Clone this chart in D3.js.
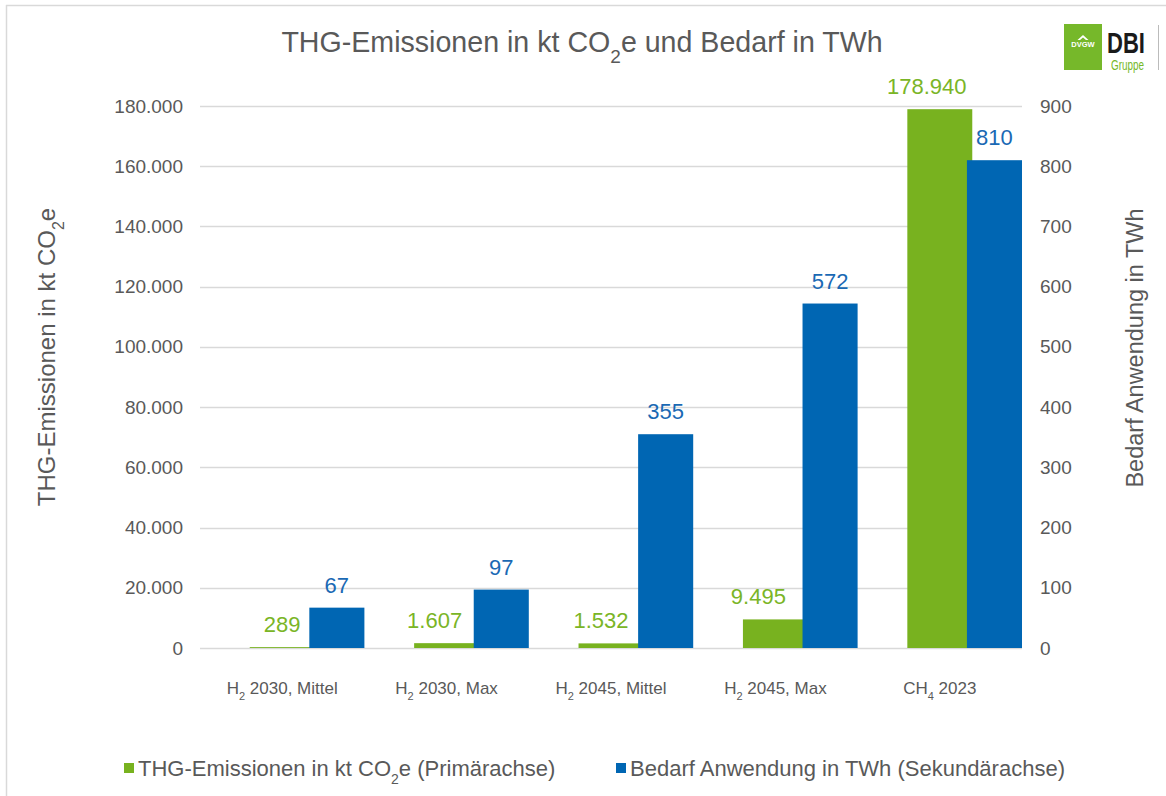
<!DOCTYPE html>
<html>
<head>
<meta charset="utf-8">
<script src="https://cdn.jsdelivr.net/npm/d3@7"></script>
<style>
  html, body { margin: 0; padding: 0; background: #fff; }
  svg { display: block; font-family: "Liberation Sans", Arial, sans-serif; }
</style>
</head>
<body>
<svg id="chart" width="1166" height="796"></svg>
<script>
// ---- data ("_" marks a subscript digit) ----
const categories = ["H_2 2030, Mittel", "H_2 2030, Max", "H_2 2045, Mittel", "H_2 2045, Max", "CH_4 2023"];
const emissions = [289, 1607, 1532, 9495, 178940];        // kt CO2e, primary axis
const demand = [67, 97, 355, 572, 810];                   // TWh, secondary axis
const leftTicks = [0, 20000, 40000, 60000, 80000, 100000, 120000, 140000, 160000, 180000];
const rightTicks = [0, 100, 200, 300, 400, 500, 600, 700, 800, 900];
const seriesNames = ["THG-Emissionen in kt CO_2e (Primärachse)", "Bedarf Anwendung in TWh (Sekundärachse)"];
const titleText = "THG-Emissionen in kt CO_2e und Bedarf in TWh";
const leftTitle = "THG-Emissionen in kt CO_2e";
const rightTitle = "Bedarf Anwendung in TWh";

// label nudges (layout only)
const emissionLabelDx = [0, -12, -10, -17, -13];

const GREEN = "#78b21f", BLUE = "#0066b3";
const GREEN_TXT = "#7ab526", BLUE_TXT = "#1a69b4";
const GREY = "#595959", GRID = "#d9d9d9";

const svg = d3.select("#chart");
const fmt = d3.formatLocale({decimal: ",", thousands: ".", grouping: [3], currency: ["", ""]}).format(",d");

// write text with "_x" as subscript
function richText(sel, str, subSize) {
  const parts = str.split(/(_\d)/).filter(s => s.length);
  parts.forEach(p => {
    if (p[0] === "_") {
      sel.append("tspan").attr("baseline-shift", "sub").attr("font-size", subSize).text(p.slice(1));
    } else {
      sel.append("tspan").text(p);
    }
  });
  return sel;
}

// border
svg.append("line").attr("x1", 6).attr("x2", 1166).attr("y1", 5.5).attr("y2", 5.5).attr("stroke", GRID).attr("stroke-width", 1.5);
svg.append("line").attr("x1", 6.5).attr("x2", 6.5).attr("y1", 5).attr("y2", 796).attr("stroke", GRID).attr("stroke-width", 1.5);

// scales
const plotL = 200, plotR = 1022, plotT = 106, plotB = 648;
const x = d3.scaleBand().domain(categories).range([plotL, plotR]).paddingInner(0).paddingOuter(0);
const yL = d3.scaleLinear().domain([0, 180000]).range([plotB, plotT]);
const yR = d3.scaleLinear().domain([0, 900]).range([plotB, plotT]);

// gridlines
svg.append("g").selectAll("line").data(leftTicks).join("line")
  .attr("x1", plotL).attr("x2", plotR)
  .attr("y1", d => Math.round(yL(d)) + 0.5).attr("y2", d => Math.round(yL(d)) + 0.5)
  .attr("stroke", GRID).attr("stroke-width", 1.3);

// left axis labels
const axL = svg.append("g").attr("transform", `translate(${plotL},0)`)
  .call(d3.axisLeft(yL).tickValues(leftTicks).tickFormat(fmt).tickSize(0).tickPadding(17));
axL.select(".domain").remove();
axL.selectAll("text").attr("font-size", 19).attr("fill", GREY).attr("font-family", "Liberation Sans, Arial, sans-serif");

// right axis labels
const axR = svg.append("g").attr("transform", `translate(${plotR},0)`)
  .call(d3.axisRight(yR).tickValues(rightTicks).tickFormat(d3.format("d")).tickSize(0).tickPadding(18));
axR.select(".domain").remove();
axR.selectAll("text").attr("font-size", 19).attr("fill", GREY).attr("font-family", "Liberation Sans, Arial, sans-serif");

const bw = x.bandwidth();
const greenW = bw * 0.395;
const blueOff = bw * 0.165, blueW = bw - bw / 2 - blueOff;

// green bars (centered on category)
svg.append("g").selectAll("rect").data(emissions).join("rect")
  .attr("x", (d, i) => x(categories[i]) + bw / 2 - greenW / 2)
  .attr("width", greenW)
  .attr("y", d => yL(d)).attr("height", d => plotB - yL(d))
  .attr("fill", GREEN);

// blue bars (offset to the right)
svg.append("g").selectAll("rect").data(demand).join("rect")
  .attr("x", (d, i) => x(categories[i]) + bw / 2 + blueOff)
  .attr("width", blueW)
  .attr("y", d => yR(d)).attr("height", d => plotB - yR(d))
  .attr("fill", BLUE);

// value labels
svg.append("g").selectAll("text").data(emissions).join("text")
  .attr("x", (d, i) => x(categories[i]) + bw / 2 + emissionLabelDx[i])
  .attr("y", d => yL(d) - 15)
  .attr("text-anchor", "middle").attr("font-size", 22).attr("fill", GREEN_TXT)
  .text(d => fmt(d));
svg.append("g").selectAll("text").data(demand).join("text")
  .attr("x", (d, i) => x(categories[i]) + bw / 2 + blueOff + blueW / 2)
  .attr("y", d => yR(d) - 15)
  .attr("text-anchor", "middle").attr("font-size", 22).attr("fill", BLUE_TXT)
  .text(d => d);

// category labels
svg.append("g").selectAll("text").data(categories).join("text")
  .attr("x", d => x(d) + bw / 2).attr("y", 694)
  .attr("text-anchor", "middle").attr("font-size", 17).attr("fill", GREY)
  .each(function(d) { richText(d3.select(this), d, 11); });

// title
richText(svg.append("text").attr("x", 582).attr("y", 52).attr("text-anchor", "middle")
  .attr("font-size", 28.6).attr("fill", GREY), titleText, 19);

// axis titles
richText(svg.append("text").attr("transform", "translate(55,357) rotate(-90)").attr("text-anchor", "middle")
  .attr("font-size", 24).attr("fill", GREY), leftTitle, 16);
svg.append("text").attr("transform", "translate(1143,348) rotate(-90)").attr("text-anchor", "middle")
  .attr("font-size", 23.5).attr("fill", GREY).text(rightTitle);

// legend
const legend = svg.append("g");
const legX = [124, 616];
[GREEN, BLUE].forEach((c, i) => {
  legend.append("rect").attr("x", legX[i]).attr("y", 763).attr("width", 10).attr("height", 10).attr("fill", c);
  richText(legend.append("text").attr("x", legX[i] + 14).attr("y", 776).attr("font-size", 22).attr("fill", GREY), seriesNames[i], 14);
});

// logo
const logo = svg.append("g");
logo.append("rect").attr("x", 1064).attr("y", 24).attr("width", 38).attr("height", 46).attr("fill", "#76b82a");
logo.append("path").attr("d", "M1077.5,40 L1083,35 L1088.5,40 L1086,40 L1083,37.5 L1080,40 Z").attr("fill", "#fff");
logo.append("text").attr("x", 1083).attr("y", 47).attr("text-anchor", "middle").attr("font-size", 7.5)
  .attr("font-weight", "bold").attr("fill", "#fff").text("DVGW");
logo.append("text").attr("x", 1107).attr("y", 53).attr("font-size", 30).attr("font-weight", "bold")
  .attr("fill", "#1a1a1a").attr("textLength", 38).attr("lengthAdjust", "spacingAndGlyphs").text("DBI");
logo.append("text").attr("x", 1111).attr("y", 70).attr("font-size", 14)
  .attr("fill", "#76b82a").attr("textLength", 33).attr("lengthAdjust", "spacingAndGlyphs").text("Gruppe");
logo.append("line").attr("x1", 1158.5).attr("x2", 1158.5).attr("y1", 25).attr("y2", 70).attr("stroke", "#bbb").attr("stroke-width", 1);
</script>
</body>
</html>
